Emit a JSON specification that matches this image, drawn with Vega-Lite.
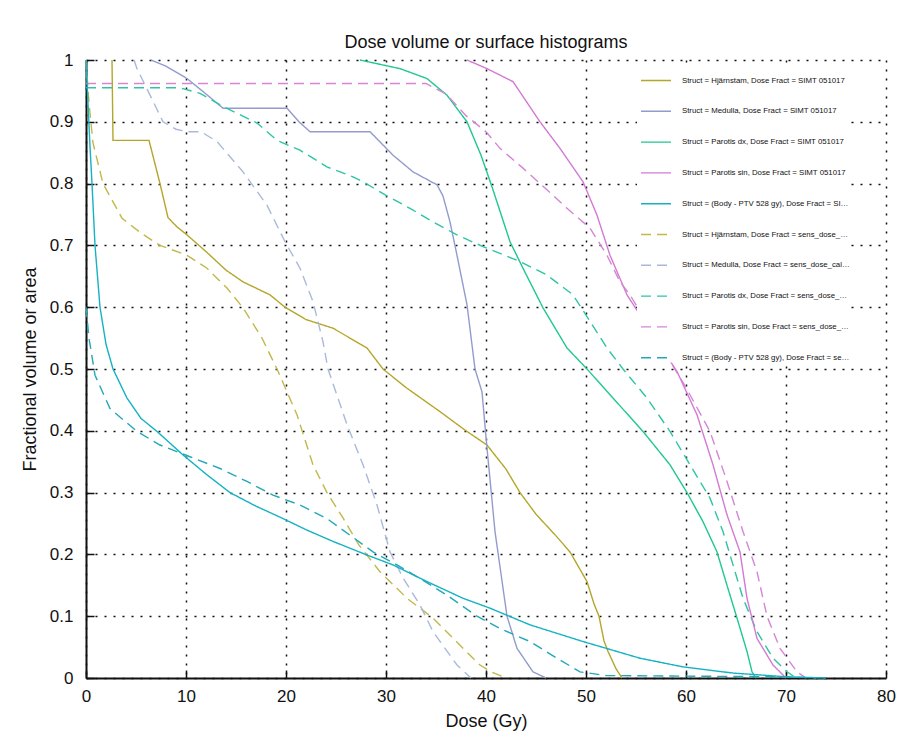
{
"$schema": "https://vega.github.io/schema/vega-lite/v6.json",
"width": 800, "height": 618,
"autosize": {"type": "none"},
"padding": {"left": 86, "top": 60, "right": 34, "bottom": 78},
"background": "white",
"title": {"text": "Dose volume or surface histograms", "fontSize": 18, "font": "Liberation Sans", "fontWeight": "normal", "offset": 10, "dy": 11, "color": "#111"},
"datasets": {
"names": [
{"id": "H1", "series": "Struct = Hjärnstam, Dose Fract = SIMT 051017"},
{"id": "M1", "series": "Struct = Medulla, Dose Fract = SIMT 051017"},
{"id": "P1", "series": "Struct = Parotis dx, Dose Fract = SIMT 051017"},
{"id": "S1", "series": "Struct = Parotis sin, Dose Fract = SIMT 051017"},
{"id": "B1", "series": "Struct = (Body - PTV 528 gy), Dose Fract = SIMT 051017"},
{"id": "H2", "series": "Struct = Hjärnstam, Dose Fract = sens_dose_calc_xx"},
{"id": "M2", "series": "Struct = Medulla, Dose Fract = sens_dose_calc_new"},
{"id": "P2", "series": "Struct = Parotis dx, Dose Fract = sens_dose_calc_xx"},
{"id": "S2", "series": "Struct = Parotis sin, Dose Fract = sens_dose_calc_xx"},
{"id": "B2", "series": "Struct = (Body - PTV 528 gy), Dose Fract = sens_dose_calc_xx"}
],
"curves": [
{"id":"H1","dose":2.6,"vol":1},{"id":"H1","dose":2.7,"vol":0.87},{"id":"H1","dose":6.3,"vol":0.87},{"id":"H1","dose":7.4,"vol":0.8},{"id":"H1","dose":8.2,"vol":0.745},{"id":"H1","dose":9.1,"vol":0.73},{"id":"H1","dose":10.1,"vol":0.717},{"id":"H1","dose":12,"vol":0.69},{"id":"H1","dose":14,"vol":0.66},{"id":"H1","dose":15.7,"vol":0.641},{"id":"H1","dose":18.4,"vol":0.62},{"id":"H1","dose":19.9,"vol":0.6},{"id":"H1","dose":22,"vol":0.58},{"id":"H1","dose":24.7,"vol":0.566},{"id":"H1","dose":28.1,"vol":0.534},{"id":"H1","dose":29.7,"vol":0.5},{"id":"H1","dose":32,"vol":0.47},{"id":"H1","dose":35.4,"vol":0.431},{"id":"H1","dose":38,"vol":0.4},{"id":"H1","dose":40.1,"vol":0.377},{"id":"H1","dose":42,"vol":0.338},{"id":"H1","dose":43.4,"vol":0.3},{"id":"H1","dose":45,"vol":0.265},{"id":"H1","dose":47,"vol":0.23},{"id":"H1","dose":48.4,"vol":0.204},{"id":"H1","dose":50.1,"vol":0.156},{"id":"H1","dose":50.8,"vol":0.12},{"id":"H1","dose":51.3,"vol":0.1},{"id":"H1","dose":51.8,"vol":0.06},{"id":"H1","dose":52.2,"vol":0.043},{"id":"H1","dose":53,"vol":0.015},{"id":"H1","dose":53.6,"vol":0},
{"id":"H2","dose":0,"vol":1},{"id":"H2","dose":0.3,"vol":0.93},{"id":"H2","dose":0.7,"vol":0.866},{"id":"H2","dose":1.7,"vol":0.8},{"id":"H2","dose":3.6,"vol":0.744},{"id":"H2","dose":5.5,"vol":0.72},{"id":"H2","dose":7.4,"vol":0.7},{"id":"H2","dose":10.1,"vol":0.684},{"id":"H2","dose":12.1,"vol":0.663},{"id":"H2","dose":14.1,"vol":0.631},{"id":"H2","dose":15.7,"vol":0.599},{"id":"H2","dose":17.6,"vol":0.55},{"id":"H2","dose":19.1,"vol":0.5},{"id":"H2","dose":21.1,"vol":0.426},{"id":"H2","dose":22.7,"vol":0.345},{"id":"H2","dose":24.1,"vol":0.3},{"id":"H2","dose":25.7,"vol":0.259},{"id":"H2","dose":27.3,"vol":0.215},{"id":"H2","dose":29.4,"vol":0.172},{"id":"H2","dose":32.1,"vol":0.129},{"id":"H2","dose":34.7,"vol":0.097},{"id":"H2","dose":37.4,"vol":0.053},{"id":"H2","dose":39.4,"vol":0.021},{"id":"H2","dose":40.5,"vol":0.01},{"id":"H2","dose":42,"vol":0},
{"id":"M1","dose":6.5,"vol":1},{"id":"M1","dose":8,"vol":0.99},{"id":"M1","dose":10.1,"vol":0.97},{"id":"M1","dose":12,"vol":0.945},{"id":"M1","dose":13.7,"vol":0.922},{"id":"M1","dose":20.1,"vol":0.922},{"id":"M1","dose":21.3,"vol":0.9},{"id":"M1","dose":22.4,"vol":0.884},{"id":"M1","dose":28.4,"vol":0.884},{"id":"M1","dose":30.7,"vol":0.846},{"id":"M1","dose":32.7,"vol":0.819},{"id":"M1","dose":35.1,"vol":0.798},{"id":"M1","dose":35.7,"vol":0.78},{"id":"M1","dose":36.4,"vol":0.738},{"id":"M1","dose":37.1,"vol":0.684},{"id":"M1","dose":38.1,"vol":0.604},{"id":"M1","dose":38.9,"vol":0.5},{"id":"M1","dose":39.6,"vol":0.463},{"id":"M1","dose":40.1,"vol":0.372},{"id":"M1","dose":40.9,"vol":0.237},{"id":"M1","dose":42.1,"vol":0.1},{"id":"M1","dose":43.1,"vol":0.048},{"id":"M1","dose":44.7,"vol":0.01},{"id":"M1","dose":46,"vol":0},
{"id":"M2","dose":4.8,"vol":1},{"id":"M2","dose":5.1,"vol":0.986},{"id":"M2","dose":6.5,"vol":0.94},{"id":"M2","dose":7.7,"vol":0.9},{"id":"M2","dose":9,"vol":0.888},{"id":"M2","dose":10.1,"vol":0.884},{"id":"M2","dose":11.5,"vol":0.884},{"id":"M2","dose":13.1,"vol":0.868},{"id":"M2","dose":15.7,"vol":0.819},{"id":"M2","dose":18.1,"vol":0.765},{"id":"M2","dose":19.9,"vol":0.706},{"id":"M2","dose":21.4,"vol":0.663},{"id":"M2","dose":22.7,"vol":0.609},{"id":"M2","dose":23.7,"vol":0.544},{"id":"M2","dose":24.2,"vol":0.5},{"id":"M2","dose":26.1,"vol":0.41},{"id":"M2","dose":27.7,"vol":0.345},{"id":"M2","dose":29.1,"vol":0.28},{"id":"M2","dose":30.4,"vol":0.204},{"id":"M2","dose":31.7,"vol":0.162},{"id":"M2","dose":33.4,"vol":0.118},{"id":"M2","dose":34.7,"vol":0.075},{"id":"M2","dose":37.1,"vol":0.021},{"id":"M2","dose":38.5,"vol":0},
{"id":"P1","dose":27.4,"vol":1},{"id":"P1","dose":31.4,"vol":0.986},{"id":"P1","dose":34.1,"vol":0.97},{"id":"P1","dose":36.1,"vol":0.943},{"id":"P1","dose":38.1,"vol":0.9},{"id":"P1","dose":39.5,"vol":0.846},{"id":"P1","dose":40.7,"vol":0.79},{"id":"P1","dose":42.4,"vol":0.706},{"id":"P1","dose":43.7,"vol":0.663},{"id":"P1","dose":45.7,"vol":0.599},{"id":"P1","dose":48.1,"vol":0.534},{"id":"P1","dose":50.1,"vol":0.5},{"id":"P1","dose":52.7,"vol":0.453},{"id":"P1","dose":55.7,"vol":0.399},{"id":"P1","dose":58.4,"vol":0.345},{"id":"P1","dose":60.1,"vol":0.3},{"id":"P1","dose":61.7,"vol":0.253},{"id":"P1","dose":63.1,"vol":0.204},{"id":"P1","dose":64.1,"vol":0.15},{"id":"P1","dose":65.1,"vol":0.097},{"id":"P1","dose":66.1,"vol":0.043},{"id":"P1","dose":66.6,"vol":0.01},{"id":"P1","dose":67,"vol":0},
{"id":"P2","dose":0,"vol":0.955},{"id":"P2","dose":9.4,"vol":0.955},{"id":"P2","dose":11.4,"vol":0.946},{"id":"P2","dose":13.7,"vol":0.925},{"id":"P2","dose":17.1,"vol":0.898},{"id":"P2","dose":19.1,"vol":0.87},{"id":"P2","dose":21.4,"vol":0.854},{"id":"P2","dose":24.1,"vol":0.827},{"id":"P2","dose":26.7,"vol":0.811},{"id":"P2","dose":27.7,"vol":0.803},{"id":"P2","dose":30.1,"vol":0.78},{"id":"P2","dose":32.4,"vol":0.76},{"id":"P2","dose":34.7,"vol":0.738},{"id":"P2","dose":37.1,"vol":0.717},{"id":"P2","dose":39.7,"vol":0.698},{"id":"P2","dose":43.4,"vol":0.674},{"id":"P2","dose":46.1,"vol":0.652},{"id":"P2","dose":48.7,"vol":0.62},{"id":"P2","dose":50.4,"vol":0.577},{"id":"P2","dose":52.1,"vol":0.534},{"id":"P2","dose":53.7,"vol":0.5},{"id":"P2","dose":56.1,"vol":0.453},{"id":"P2","dose":58.4,"vol":0.399},{"id":"P2","dose":60.4,"vol":0.345},{"id":"P2","dose":62.4,"vol":0.291},{"id":"P2","dose":63.7,"vol":0.237},{"id":"P2","dose":64.7,"vol":0.183},{"id":"P2","dose":65.7,"vol":0.129},{"id":"P2","dose":67.1,"vol":0.075},{"id":"P2","dose":68.7,"vol":0.032},{"id":"P2","dose":70.1,"vol":0.01},{"id":"P2","dose":71,"vol":0},
{"id":"S1","dose":38.1,"vol":1},{"id":"S1","dose":40.1,"vol":0.986},{"id":"S1","dose":42.7,"vol":0.965},{"id":"S1","dose":45.4,"vol":0.9},{"id":"S1","dose":47.4,"vol":0.857},{"id":"S1","dose":49.7,"vol":0.803},{"id":"S1","dose":51.1,"vol":0.749},{"id":"S1","dose":52.4,"vol":0.684},{"id":"S1","dose":54.1,"vol":0.62},{"id":"S1","dose":56.5,"vol":0.56},{"id":"S1","dose":59.1,"vol":0.496},{"id":"S1","dose":61.1,"vol":0.426},{"id":"S1","dose":62.7,"vol":0.345},{"id":"S1","dose":64.1,"vol":0.264},{"id":"S1","dose":65.4,"vol":0.204},{"id":"S1","dose":66.1,"vol":0.129},{"id":"S1","dose":67.1,"vol":0.064},{"id":"S1","dose":68.7,"vol":0.021},{"id":"S1","dose":70,"vol":0},
{"id":"S2","dose":0,"vol":0.962},{"id":"S2","dose":34,"vol":0.962},{"id":"S2","dose":36,"vol":0.945},{"id":"S2","dose":38,"vol":0.91},{"id":"S2","dose":40,"vol":0.884},{"id":"S2","dose":41.4,"vol":0.857},{"id":"S2","dose":43.7,"vol":0.825},{"id":"S2","dose":46.1,"vol":0.79},{"id":"S2","dose":48.1,"vol":0.76},{"id":"S2","dose":50.4,"vol":0.728},{"id":"S2","dose":52.1,"vol":0.684},{"id":"S2","dose":53.4,"vol":0.641},{"id":"S2","dose":54.4,"vol":0.62},{"id":"S2","dose":57,"vol":0.55},{"id":"S2","dose":60,"vol":0.47},{"id":"S2","dose":62.4,"vol":0.399},{"id":"S2","dose":64.1,"vol":0.318},{"id":"S2","dose":65.7,"vol":0.237},{"id":"S2","dose":67.1,"vol":0.172},{"id":"S2","dose":68.1,"vol":0.1},{"id":"S2","dose":69.4,"vol":0.048},{"id":"S2","dose":71.1,"vol":0.01},{"id":"S2","dose":72,"vol":0},
{"id":"B1","dose":0,"vol":1},{"id":"B1","dose":0.2,"vol":0.93},{"id":"B1","dose":0.4,"vol":0.86},{"id":"B1","dose":0.6,"vol":0.8},{"id":"B1","dose":0.9,"vol":0.7},{"id":"B1","dose":1.4,"vol":0.6},{"id":"B1","dose":2,"vol":0.54},{"id":"B1","dose":2.7,"vol":0.5},{"id":"B1","dose":4.1,"vol":0.453},{"id":"B1","dose":5.5,"vol":0.42},{"id":"B1","dose":7.1,"vol":0.399},{"id":"B1","dose":9.7,"vol":0.361},{"id":"B1","dose":12,"vol":0.33},{"id":"B1","dose":14.4,"vol":0.3},{"id":"B1","dose":17,"vol":0.278},{"id":"B1","dose":19.7,"vol":0.258},{"id":"B1","dose":22,"vol":0.24},{"id":"B1","dose":24.7,"vol":0.221},{"id":"B1","dose":28.1,"vol":0.199},{"id":"B1","dose":30.7,"vol":0.183},{"id":"B1","dose":34.1,"vol":0.156},{"id":"B1","dose":37.7,"vol":0.129},{"id":"B1","dose":40.4,"vol":0.113},{"id":"B1","dose":44.4,"vol":0.086},{"id":"B1","dose":49.7,"vol":0.059},{"id":"B1","dose":55.4,"vol":0.032},{"id":"B1","dose":59.7,"vol":0.018},{"id":"B1","dose":64.7,"vol":0.008},{"id":"B1","dose":70,"vol":0.002},{"id":"B1","dose":74,"vol":0},
{"id":"B2","dose":0,"vol":0.6},{"id":"B2","dose":0.3,"vol":0.55},{"id":"B2","dose":0.9,"vol":0.49},{"id":"B2","dose":2.4,"vol":0.436},{"id":"B2","dose":5.1,"vol":0.399},{"id":"B2","dose":7.4,"vol":0.377},{"id":"B2","dose":10.4,"vol":0.358},{"id":"B2","dose":13.4,"vol":0.339},{"id":"B2","dose":16.1,"vol":0.318},{"id":"B2","dose":18.7,"vol":0.296},{"id":"B2","dose":21.4,"vol":0.28},{"id":"B2","dose":24.1,"vol":0.258},{"id":"B2","dose":26.4,"vol":0.231},{"id":"B2","dose":28.7,"vol":0.204},{"id":"B2","dose":31.1,"vol":0.183},{"id":"B2","dose":33.4,"vol":0.161},{"id":"B2","dose":36.1,"vol":0.134},{"id":"B2","dose":39.1,"vol":0.1},{"id":"B2","dose":41.4,"vol":0.08},{"id":"B2","dose":44.4,"vol":0.059},{"id":"B2","dose":47.1,"vol":0.032},{"id":"B2","dose":49.4,"vol":0.01},{"id":"B2","dose":52,"vol":0.004},{"id":"B2","dose":60,"vol":0.003},{"id":"B2","dose":70,"vol":0.002},{"id":"B2","dose":73,"vol":0}
]
},
"data": {"name": "curves"},
"transform": [{"lookup": "id", "from": {"data": {"name": "names"}, "key": "id", "fields": ["series"]}}],
"mark": {"type": "line", "strokeWidth": 1.4},
"encoding": {
"x": {"field": "dose", "type": "quantitative", "title": "Dose (Gy)",
  "scale": {"domain": [0, 80], "nice": false},
  "axis": {"values": [0,10,20,30,40,50,60,70,80], "labelPadding": 18, "labelFlush": false, "labelOverlap": false, "titleX": 400, "titleY": 48, "titleBaseline": "alphabetic", "titleAlign": "center"}},
"y": {"field": "vol", "type": "quantitative", "title": "Fractional volume or area",
  "scale": {"domain": [0, 1], "nice": false},
  "axis": {"values": [0,0.1,0.2,0.3,0.4,0.5,0.6,0.7,0.8,0.9,1], "format": "~g", "labelPadding": 21, "labelFlush": false, "labelOverlap": false, "titleX": -51, "titleY": 309, "titleBaseline": "alphabetic", "titleAlign": "center", "titleAngle": -90}},
"color": {"field": "series", "type": "nominal", "title": null,
  "scale": {"domain": [
    "Struct = Hjärnstam, Dose Fract = SIMT 051017",
    "Struct = Medulla, Dose Fract = SIMT 051017",
    "Struct = Parotis dx, Dose Fract = SIMT 051017",
    "Struct = Parotis sin, Dose Fract = SIMT 051017",
    "Struct = (Body - PTV 528 gy), Dose Fract = SIMT 051017",
    "Struct = Hjärnstam, Dose Fract = sens_dose_calc_xx",
    "Struct = Medulla, Dose Fract = sens_dose_calc_new",
    "Struct = Parotis dx, Dose Fract = sens_dose_calc_xx",
    "Struct = Parotis sin, Dose Fract = sens_dose_calc_xx",
    "Struct = (Body - PTV 528 gy), Dose Fract = sens_dose_calc_xx"],
   "range": ["#b5a62a", "#929ccc", "#1fc88e", "#d27ad4", "#14b2c2", "#c2b84a", "#a9b9da", "#2ec4a4", "#d585d6", "#22a8b8"]}},
"strokeDash": {"field": "series", "type": "nominal", "title": null,
  "scale": {"domain": [
    "Struct = Hjärnstam, Dose Fract = SIMT 051017",
    "Struct = Medulla, Dose Fract = SIMT 051017",
    "Struct = Parotis dx, Dose Fract = SIMT 051017",
    "Struct = Parotis sin, Dose Fract = SIMT 051017",
    "Struct = (Body - PTV 528 gy), Dose Fract = SIMT 051017",
    "Struct = Hjärnstam, Dose Fract = sens_dose_calc_xx",
    "Struct = Medulla, Dose Fract = sens_dose_calc_new",
    "Struct = Parotis dx, Dose Fract = sens_dose_calc_xx",
    "Struct = Parotis sin, Dose Fract = sens_dose_calc_xx",
    "Struct = (Body - PTV 528 gy), Dose Fract = sens_dose_calc_xx"],
   "range": [[1,0],[1,0],[1,0],[1,0],[1,0],[10,6],[10,6],[10,6],[10,6],[10,6]]}}
},
"config": {
  "view": {"stroke": null},
  "axis": {"domainColor": "#111", "domainWidth": 2, "tickColor": "#111", "tickSize": -8, "tickWidth": 1.5,
    "grid": true, "gridColor": "#111", "gridDash": [2, 7], "gridWidth": 1.5, "gridOpacity": 1,
    "labelFont": "Liberation Sans", "labelFontSize": 17, "labelColor": "#111",
    "titleFont": "Liberation Sans", "titleFontSize": 18, "titleFontWeight": "normal", "titleColor": "#111"},
  "legend": {"orient": "none", "legendX": 551, "legendY": 4.5, "fillColor": "white", "padding": 0,
    "symbolType": "stroke", "symbolSize": 900, "symbolStrokeWidth": 1.4, "symbolOffset": 3,
    "labelOffset": 10, "labelFont": "Liberation Sans", "labelFontSize": 7.8, "labelColor": "#111",
    "labelLimit": 168, "rowPadding": 10.8}
}
}
